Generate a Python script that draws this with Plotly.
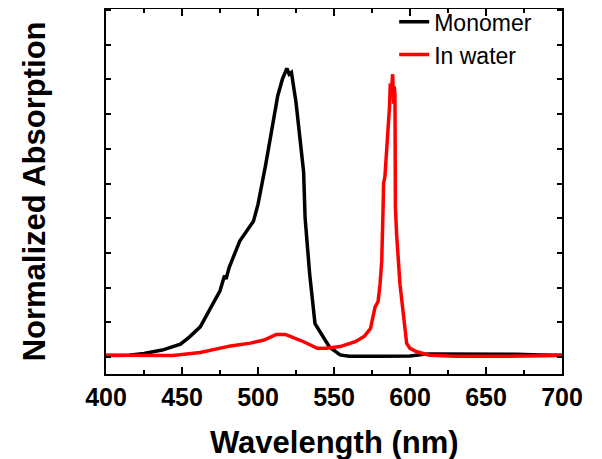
import plotly.graph_objects as go

# Monomer spectrum (black)
mono_wl = [400, 415, 425, 437, 449, 455, 462, 468, 475, 478, 479, 481, 488, 497, 500,
           505, 509, 513, 516, 519, 520.5, 522, 525, 527.5, 530, 531, 534, 537.5, 543,
           547, 554, 560, 580, 600, 612, 620, 650, 670, 685, 700]
mono_abs = [0.004, 0.005, 0.01, 0.02, 0.037, 0.058, 0.087, 0.134, 0.191, 0.235, 0.225,
            0.258, 0.334, 0.391, 0.44, 0.553, 0.658, 0.753, 0.80, 0.832, 0.815, 0.82,
            0.734, 0.629, 0.534, 0.40, 0.239, 0.096, 0.058, 0.029, 0.006, 0.002, 0.002,
            0.003, 0.009, 0.009, 0.009, 0.008, 0.006, 0.005]

# In water spectrum (red)
water_wl = [400, 415, 444, 462, 482, 495, 504, 512, 518, 522, 530, 539, 545, 554, 564,
            570, 574, 577, 579, 580.3, 581.4, 582.3, 582.6, 583.5, 584.2, 585.7, 586.5,
            587, 588, 588.6, 589.2, 589.6, 590.1, 590.4, 591.2, 593.4, 595.6, 597.8,
            600, 604.4, 613, 630, 660, 680, 700]
water_abs = [0.005, 0.004, 0.004, 0.013, 0.032, 0.04, 0.049, 0.065, 0.065, 0.058, 0.044,
             0.025, 0.025, 0.03, 0.044, 0.06, 0.082, 0.144, 0.16, 0.21, 0.277, 0.43, 0.50,
             0.52, 0.563, 0.639, 0.72, 0.782, 0.78, 0.815, 0.73, 0.78, 0.758, 0.43, 0.353,
             0.21, 0.134, 0.039, 0.025, 0.015, 0.005, 0.002, 0.002, 0.003, 0.004]

x_ticks = [400, 450, 500, 550, 600, 650, 700]

FONT = "Arial, Liberation Sans, sans-serif"

fig = go.Figure()
fig.add_trace(go.Scatter(x=mono_wl, y=mono_abs, mode="lines", name="Monomer",
                         line=dict(color="black", width=3.5)))
fig.add_trace(go.Scatter(x=water_wl, y=water_abs, mode="lines", name="In water",
                         line=dict(color="#ff0000", width=3.5)))

fig.update_layout(
    width=594, height=451,
    margin=dict(l=98, r=40, t=1, b=85, autoexpand=False),
    paper_bgcolor="white", plot_bgcolor="white",
    showlegend=True,
    legend=dict(x=0.632, y=1.024, xanchor="left", yanchor="top",
                font=dict(family=FONT, size=23, color="black"),
                bgcolor="rgba(0,0,0,0)", tracegroupgap=0, itemwidth=30),
    xaxis=dict(
        range=[400, 700], tickmode="array", tickvals=x_ticks,
        ticktext=[str(v) for v in x_ticks],
        ticks="inside", ticklen=7, tickwidth=1.5, tickcolor="black",
        showline=True, linecolor="black", linewidth=1.5, mirror="ticks",
        showgrid=False, zeroline=False, automargin=False,
        tickfont=dict(family=FONT, size=25, color="black", weight="bold"),
        minor=dict(dtick=25, tick0=400, ticks="inside", ticklen=4, tickwidth=1.5,
                   tickcolor="black", showgrid=False),
    ),
    yaxis=dict(
        range=[-0.049, 1.003], dtick=0.1, tick0=0,
        ticks="inside", ticklen=5, tickwidth=1.5, tickcolor="black",
        showticklabels=False, automargin=False,
        showline=True, linecolor="black", linewidth=1.5, mirror="ticks",
        showgrid=False, zeroline=False,
    ),
    annotations=[
        dict(text="<b>Wavelength (nm)</b>", xref="paper", yref="paper",
             x=0.5, y=-0.189, xanchor="center", yanchor="middle", showarrow=False,
             font=dict(family=FONT, size=31, color="black")),
        dict(text="<b>Normalized Absorption</b>", xref="paper", yref="paper",
             x=-0.156, y=0.5, xanchor="center", yanchor="middle", showarrow=False,
             textangle=-90, font=dict(family=FONT, size=31, color="black")),
    ],
)

fig.write_html("out.html")
